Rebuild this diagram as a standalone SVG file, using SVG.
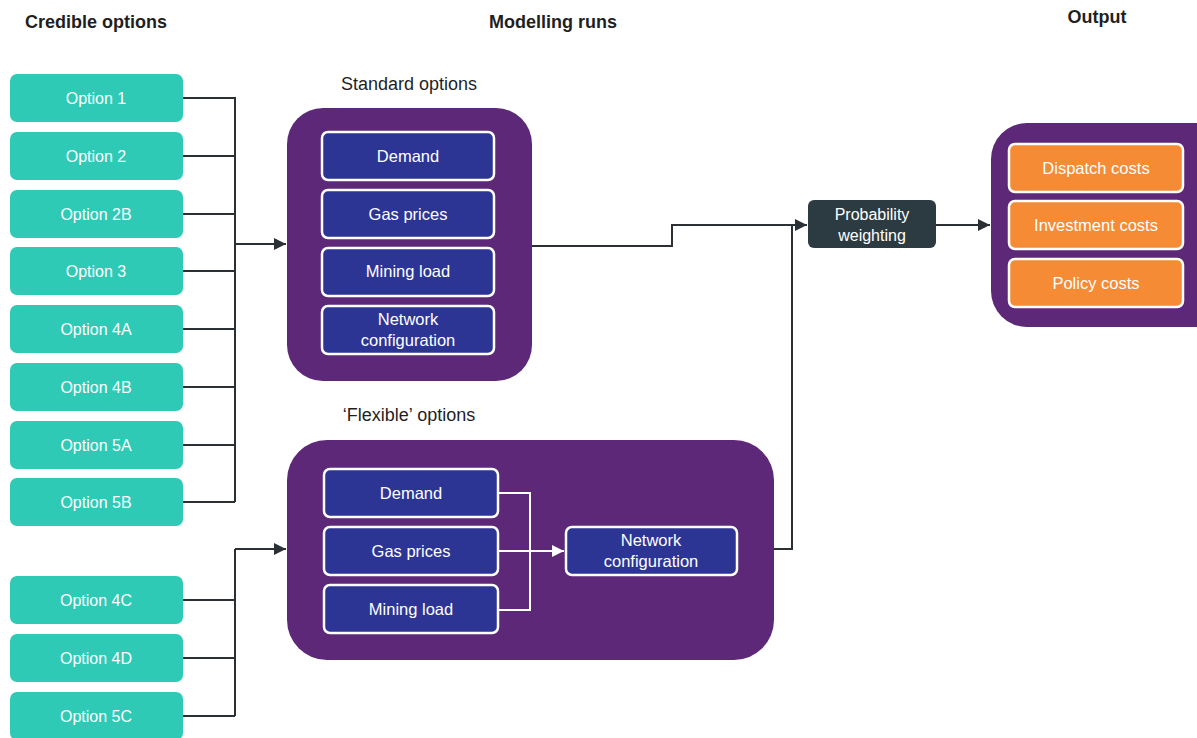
<svg xmlns="http://www.w3.org/2000/svg" width="1197" height="738" viewBox="0 0 1197 738">
  <style>
    text { font-family: "Liberation Sans", Arial, sans-serif; }
    .hdr { font-size: 18px; font-weight: bold; fill: #1f1f1f; text-anchor: middle; }
    .sub { font-size: 18px; fill: #1f1f1f; text-anchor: middle; }
    .opt rect { fill: #2ecab5; }
    .opt text { font-size: 16px; fill: #ffffff; text-anchor: middle; }
    .panel { fill: #5e2878; }
    .inner rect { fill: #2c3593; stroke: #ffffff; stroke-width: 2.5; }
    .inner text { font-size: 16.5px; fill: #ffffff; text-anchor: middle; }
    .out rect { fill: #f58b35; stroke: #ffffff; stroke-width: 2.5; }
    .out text { font-size: 16.5px; fill: #ffffff; text-anchor: middle; }
    .prob rect { fill: #2c3b41; }
    .prob text { font-size: 16px; fill: #ffffff; text-anchor: middle; }
    .conn { fill: none; stroke: #2b3035; stroke-width: 2; }
    .wconn { fill: none; stroke: #ffffff; stroke-width: 2; }
  </style>
  <defs>
    <marker id="arr" viewBox="0 0 10 10" refX="10" refY="5" markerWidth="6" markerHeight="6" markerUnits="strokeWidth" orient="auto">
      <path d="M0,0 L10,5 L0,10 z" fill="#2b3035"/>
    </marker>
    <marker id="warr" viewBox="0 0 10 10" refX="10" refY="5" markerWidth="6" markerHeight="6" markerUnits="strokeWidth" orient="auto">
      <path d="M0,0 L10,5 L0,10 z" fill="#ffffff"/>
    </marker>
  </defs>

  <!-- column headings -->
  <text class="hdr" x="96" y="28">Credible options</text>
  <text class="hdr" x="553" y="28">Modelling runs</text>
  <text class="hdr" x="1097" y="23">Output</text>
  <text class="sub" x="409" y="90">Standard options</text>
  <text class="sub" x="409" y="421">‘Flexible’ options</text>

  <!-- connectors -->
  <g id="connectors">
    <path class="conn" d="M183,98 H235 V502 M183,156 H235 M183,214 H235 M183,271 H235 M183,329 H235 M183,387 H235 M183,445 H235 M183,502 H235"/>
    <path class="conn" d="M235,244 H286" marker-end="url(#arr)"/>
    <path class="conn" d="M183,600 H235 M183,658 H235 M183,716 H235 M235,716 V549"/>
    <path class="conn" d="M235,549 H286" marker-end="url(#arr)"/>
    <path class="conn" d="M532,246 H672 V225 H807" marker-end="url(#arr)"/>
    <path class="conn" d="M774,549 H792 V225"/>
    <path class="conn" d="M936,225 H990" marker-end="url(#arr)"/>
  </g>

  <!-- credible options -->
  <g id="option-1" class="opt"><rect x="10" y="74" width="173" height="48" rx="7"/><text x="96" y="104">Option 1</text></g>
  <g id="option-2" class="opt"><rect x="10" y="132" width="173" height="48" rx="7"/><text x="96" y="162">Option 2</text></g>
  <g id="option-2b" class="opt"><rect x="10" y="190" width="173" height="48" rx="7"/><text x="96" y="220">Option 2B</text></g>
  <g id="option-3" class="opt"><rect x="10" y="247" width="173" height="48" rx="7"/><text x="96" y="277">Option 3</text></g>
  <g id="option-4a" class="opt"><rect x="10" y="305" width="173" height="48" rx="7"/><text x="96" y="335">Option 4A</text></g>
  <g id="option-4b" class="opt"><rect x="10" y="363" width="173" height="48" rx="7"/><text x="96" y="393">Option 4B</text></g>
  <g id="option-5a" class="opt"><rect x="10" y="421" width="173" height="48" rx="7"/><text x="96" y="451">Option 5A</text></g>
  <g id="option-5b" class="opt"><rect x="10" y="478" width="173" height="48" rx="7"/><text x="96" y="508">Option 5B</text></g>
  <g id="option-4c" class="opt"><rect x="10" y="576" width="173" height="48" rx="7"/><text x="96" y="606">Option 4C</text></g>
  <g id="option-4d" class="opt"><rect x="10" y="634" width="173" height="48" rx="7"/><text x="96" y="664">Option 4D</text></g>
  <g id="option-5c" class="opt"><rect x="10" y="692" width="173" height="48" rx="7"/><text x="96" y="722">Option 5C</text></g>

  <!-- standard options run -->
  <g id="standard-options">
    <rect class="panel" x="287" y="108" width="245" height="273" rx="36"/>
    <g class="inner">
      <rect x="322" y="132" width="172" height="48" rx="6"/><text x="408" y="162">Demand</text>
      <rect x="322" y="190" width="172" height="48" rx="6"/><text x="408" y="220">Gas prices</text>
      <rect x="322" y="248" width="172" height="48" rx="6"/><text x="408" y="277">Mining load</text>
      <rect x="322" y="306" width="172" height="48" rx="6"/><text x="408" y="325">Network</text><text x="408" y="346">configuration</text>
    </g>
  </g>

  <!-- flexible options run -->
  <g id="flexible-options">
    <rect class="panel" x="287" y="440" width="487" height="220" rx="40"/>
    <path class="wconn" d="M498,493 H530 V610 H498 M498,551 H564" marker-end="url(#warr)"/>
    <g class="inner">
      <rect x="324" y="469" width="174" height="48" rx="6"/><text x="411" y="499">Demand</text>
      <rect x="324" y="527" width="174" height="48" rx="6"/><text x="411" y="557">Gas prices</text>
      <rect x="324" y="585" width="174" height="48" rx="6"/><text x="411" y="615">Mining load</text>
      <rect x="566" y="527" width="171" height="48" rx="6"/><text x="651" y="546">Network</text><text x="651" y="567">configuration</text>
    </g>
  </g>

  <!-- probability weighting -->
  <g id="probability-weighting" class="prob">
    <rect x="808" y="200" width="128" height="48" rx="6"/>
    <text x="872" y="220">Probability</text><text x="872" y="241">weighting</text>
  </g>

  <!-- output -->
  <g id="output">
    <rect class="panel" x="991" y="123" width="240" height="204" rx="36"/>
    <g class="out">
      <rect x="1009" y="144" width="174" height="48" rx="6"/><text x="1096" y="174">Dispatch costs</text>
      <rect x="1009" y="201" width="174" height="48" rx="6"/><text x="1096" y="231">Investment costs</text>
      <rect x="1009" y="259" width="174" height="48" rx="6"/><text x="1096" y="289">Policy costs</text>
    </g>
  </g>
</svg>
